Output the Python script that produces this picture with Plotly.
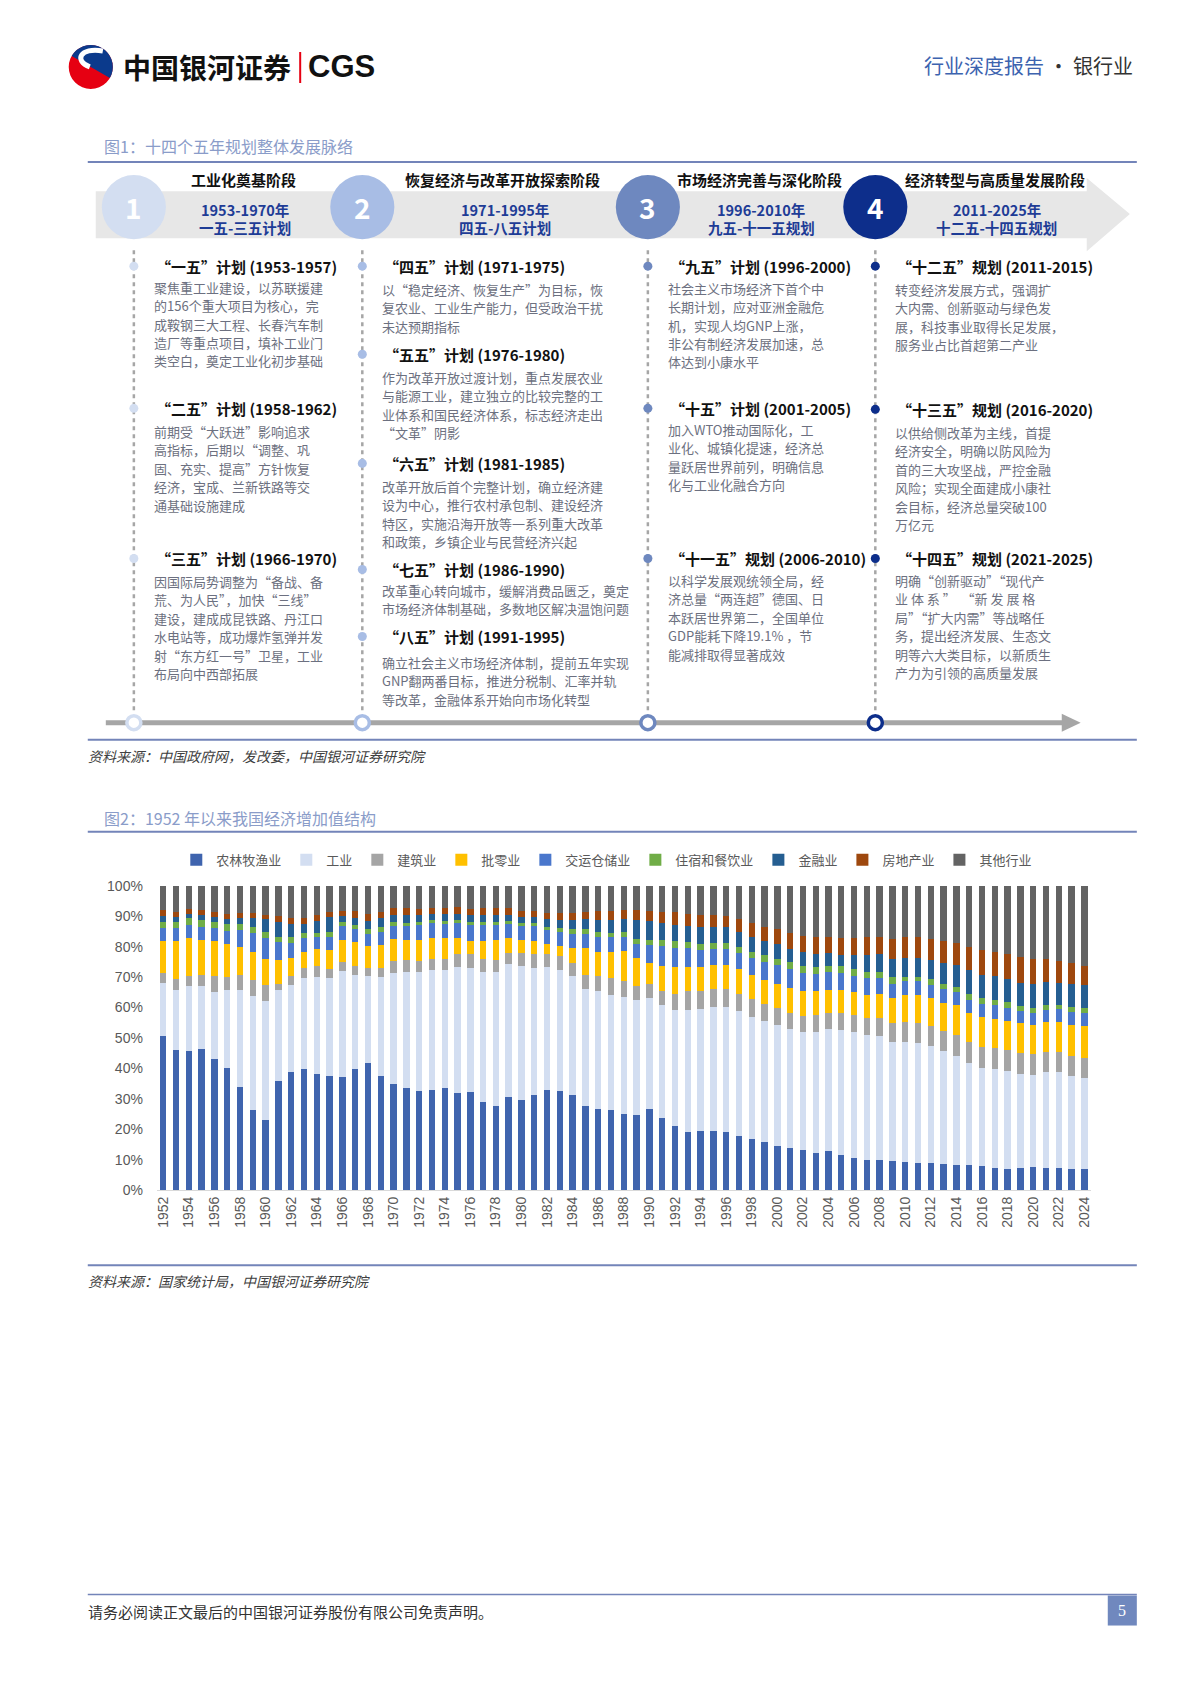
import math
import plotly.graph_objects as go

W, H = 1190, 1683
FONT = "Noto Sans CJK SC, Noto Sans, sans-serif"

# ---------------- Figure 2 data (share of value added, %) ----------------
years = [str(y) for y in range(1952, 2025)]
series_names = ["农林牧渔业", "工业", "建筑业", "批零业", "交运仓储业", "住宿和餐饮业", "金融业", "房地产业", "其他行业"]

agri = [50.5, 46.0, 45.6, 46.3, 43.1, 40.2, 33.8, 26.3, 23.0, 35.8, 38.9, 39.8, 38.1, 37.6, 37.1, 39.7, 41.7,
        37.4, 34.9, 33.6, 32.5, 33.0, 33.4, 32.0, 32.3, 29.0, 27.6, 30.6, 29.6, 31.2, 32.8, 32.5, 31.4, 27.8, 26.5, 26.2,
        25.1, 24.6, 26.5, 23.8, 21.1, 19.2, 19.4, 19.5, 19.2, 17.7, 16.9, 15.9, 14.4, 13.9, 13.2, 12.2, 12.7, 11.5, 10.6,
        10.0, 10.0, 9.6, 9.2, 9.0, 9.0, 8.6, 8.4, 8.1, 7.9, 7.4, 7.0, 7.1, 7.6, 7.1, 7.2, 6.9, 6.8]
industry = [17.7, 19.8, 21.6, 20.9, 21.9, 25.4, 31.8, 37.6, 39.0, 29.8, 28.6, 29.9, 31.8, 32.1, 35.0, 31.0, 28.6,
            32.5, 36.6, 38.2, 39.1, 39.3, 38.9, 41.4, 40.7, 42.6, 44.2, 43.6, 43.9, 41.9, 40.6, 39.9, 38.8, 38.4, 38.8, 38.0,
            38.4, 37.8, 36.6, 37.1, 38.2, 40.0, 40.1, 40.7, 41.0, 41.3, 39.9, 39.6, 40.0, 39.0, 38.8, 39.8, 40.1, 41.1, 41.5,
            41.1, 40.8, 39.0, 39.4, 39.4, 38.2, 37.0, 35.6, 33.6, 32.3, 32.4, 32.1, 30.9, 30.1, 31.7, 31.7, 30.5, 30.1]
construction = [3.3, 3.5, 3.0, 3.4, 5.4, 4.4, 5.1, 5.1, 5.5, 2.2, 2.8, 3.2, 3.6, 3.0, 3.0, 3.1, 2.6,
                3.0, 3.8, 3.9, 3.7, 3.7, 3.7, 4.1, 4.5, 4.3, 3.7, 3.6, 4.3, 4.4, 4.1, 4.6, 4.4, 4.5, 4.9, 5.5,
                5.3, 4.6, 4.6, 4.6, 5.1, 6.3, 6.0, 6.0, 5.8, 5.6, 5.9, 5.5, 5.3, 5.3, 5.2, 5.4, 5.4, 5.6, 5.4,
                5.5, 5.8, 6.3, 6.5, 6.5, 6.6, 6.7, 7.0, 6.9, 6.9, 6.9, 7.0, 7.1, 7.1, 6.6, 6.4, 6.7, 6.5]
retail = [10.4, 12.6, 12.6, 11.6, 11.3, 10.8, 9.3, 9.1, 8.4, 7.9, 5.9, 5.3, 5.6, 6.1, 7.1, 7.6, 7.2,
          7.7, 7.1, 6.5, 6.9, 7.0, 6.8, 5.3, 4.5, 6.0, 6.6, 5.0, 4.3, 4.5, 3.3, 3.2, 4.9, 8.8, 8.2, 8.7,
          9.8, 9.2, 6.9, 8.3, 8.9, 7.8, 7.8, 7.7, 7.9, 8.0, 8.0, 8.2, 8.1, 8.2, 8.3, 8.1, 7.5, 7.4, 7.6,
          7.6, 8.0, 8.2, 8.9, 9.1, 9.2, 9.3, 9.7, 9.7, 9.7, 9.6, 9.6, 9.7, 9.6, 9.8, 10.0, 10.2, 10.4]
transport = [4.1, 4.1, 4.3, 4.3, 4.3, 4.5, 5.5, 6.5, 6.9, 5.7, 5.1, 4.6, 4.0, 4.5, 4.6, 4.3, 4.1,
             4.3, 4.4, 4.6, 4.9, 4.7, 4.5, 4.9, 5.1, 5.2, 5.0, 4.6, 4.7, 4.8, 4.7, 4.5, 4.7, 4.7, 4.9, 4.7,
             4.5, 4.7, 6.0, 6.5, 6.2, 6.2, 5.6, 5.4, 5.4, 5.2, 5.5, 5.7, 6.1, 6.2, 5.9, 5.6, 5.9, 5.7, 5.4,
             5.5, 5.1, 4.7, 4.6, 4.6, 4.4, 4.6, 4.4, 4.3, 4.3, 4.6, 4.3, 4.2, 3.8, 4.0, 4.2, 4.2, 4.4]
hotel = [2.2, 2.2, 2.2, 2.3, 2.2, 2.1, 1.9, 2.0, 1.9, 1.9, 1.8, 1.7, 1.5, 1.4, 1.4, 1.4, 1.5,
         1.7, 1.2, 1.1, 1.1, 1.1, 1.2, 0.9, 1.1, 1.1, 1.1, 1.1, 1.1, 1.1, 1.1, 1.3, 1.5, 1.6, 1.6, 1.5,
         1.6, 1.7, 1.7, 2.0, 2.2, 1.9, 2.1, 1.9, 1.8, 2.0, 2.1, 2.2, 2.0, 2.2, 2.3, 2.3, 2.1, 2.2, 2.2,
         1.9, 2.1, 2.1, 1.5, 1.5, 1.9, 1.6, 1.7, 1.8, 1.9, 1.7, 1.8, 1.6, 1.6, 1.7, 1.4, 1.8, 1.8]
finance = [2.0, 1.7, 1.4, 1.6, 1.5, 1.8, 2.1, 2.9, 4.4, 4.9, 4.2, 2.8, 3.9, 4.9, 1.9, 2.2, 2.7,
           2.7, 2.4, 2.5, 2.2, 1.8, 2.1, 2.1, 2.2, 2.2, 2.2, 1.9, 1.8, 1.7, 2.4, 2.8, 2.9, 3.2, 3.7, 4.2,
           4.4, 6.2, 6.1, 5.6, 5.4, 5.4, 5.3, 5.3, 5.2, 5.1, 4.9, 4.9, 4.9, 4.5, 4.5, 4.3, 4.3, 3.8, 4.6,
           5.7, 5.7, 6.1, 6.1, 6.1, 6.2, 6.9, 7.2, 8.0, 7.7, 7.6, 7.6, 7.6, 7.8, 7.4, 7.2, 7.3, 7.5]
real_estate = [1.8, 1.4, 1.7, 1.8, 1.8, 1.5, 1.7, 1.4, 1.3, 1.9, 2.0, 2.0, 1.9, 1.7, 1.6, 2.4, 2.3,
               2.2, 2.2, 2.2, 2.0, 2.2, 2.2, 2.2, 2.0, 2.2, 2.2, 2.2, 2.0, 2.1, 1.9, 2.1, 2.3, 2.3, 3.1, 3.0,
               3.1, 3.1, 3.3, 3.4, 4.2, 3.9, 4.1, 3.9, 3.9, 4.1, 4.5, 4.6, 4.9, 5.1, 5.2, 5.5, 5.2, 5.5, 5.6,
               6.0, 5.7, 6.5, 6.9, 6.9, 6.9, 7.2, 7.2, 7.6, 8.2, 8.2, 8.2, 8.4, 8.4, 7.7, 7.2, 6.9, 6.2]
other = [8.0, 8.7, 7.6, 7.8, 8.5, 9.3, 8.8, 9.1, 9.6, 9.9, 10.7, 10.7, 9.6, 8.7, 8.3, 8.3, 9.3,
         8.5, 7.4, 7.4, 7.6, 7.2, 7.2, 7.1, 7.6, 7.4, 7.4, 7.4, 8.3, 8.3, 9.1, 9.1, 9.1, 8.7, 8.3, 8.2,
         7.8, 8.1, 8.3, 8.7, 8.7, 9.3, 9.6, 9.6, 9.8, 11.0, 12.3, 13.4, 14.3, 15.6, 16.6, 16.8, 16.8, 17.2, 17.1,
         16.7, 16.8, 17.5, 16.9, 16.9, 17.6, 18.1, 18.8, 20.0, 21.1, 21.6, 22.4, 23.4, 24.0, 24.0, 24.7, 25.5, 26.3]
series_values = [agri, industry, construction, retail, transport, hotel, finance, real_estate, other]
series_colors = ["#3F64AE", "#D3DEF1", "#A5A5A5", "#FFC000", "#4A77CC", "#70AD47", "#255E91", "#9E480E", "#636363"]
year_ticks = years[::2]
pct_ticks = [0, 10, 20, 30, 40, 50, 60, 70, 80, 90, 100]
pct_labels = ["0%", "10%", "20%", "30%", "40%", "50%", "60%", "70%", "80%", "90%", "100%"]

# ---------------- Figure 1 texts ----------------
stage_names = ["工业化奠基阶段", "恢复经济与改革开放探索阶段", "市场经济完善与深化阶段", "经济转型与高质量发展阶段"]
stage_years = ["1953-1970年", "1971-1995年", "1996-2010年", "2011-2025年"]
stage_plans = ["一五-三五计划", "四五-八五计划", "九五-十一五规划", "十二五-十四五规划"]
stage_nums = ["1", "2", "3", "4"]

plans = [
    [("“一五”计划 (1953-1957)", ["聚焦重工业建设，以苏联援建", "的156个重大项目为核心，完", "成鞍钢三大工程、长春汽车制",
                                 "造厂等重点项目，填补工业门", "类空白，奠定工业化初步基础"]),
     ("“二五”计划 (1958-1962)", ["前期受“大跃进”影响追求", "高指标，后期以“调整、巩", "固、充实、提高”方针恢复",
                                 "经济，宝成、兰新铁路等交", "通基础设施建成"]),
     ("“三五”计划 (1966-1970)", ["因国际局势调整为“备战、备", "荒、为人民”，加快“三线”", "建设，建成成昆铁路、丹江口",
                                 "水电站等，成功爆炸氢弹并发", "射“东方红一号”卫星，工业", "布局向中西部拓展"])],
    [("“四五”计划 (1971-1975)", ["以“稳定经济、恢复生产”为目标，恢", "复农业、工业生产能力，但受政治干扰", "未达预期指标"]),
     ("“五五”计划 (1976-1980)", ["作为改革开放过渡计划，重点发展农业", "与能源工业，建立独立的比较完整的工",
                                 "业体系和国民经济体系，标志经济走出", "“文革”阴影"]),
     ("“六五”计划 (1981-1985)", ["改革开放后首个完整计划，确立经济建", "设为中心，推行农村承包制、建设经济",
                                 "特区，实施沿海开放等一系列重大改革", "和政策，乡镇企业与民营经济兴起"]),
     ("“七五”计划 (1986-1990)", ["改革重心转向城市，缓解消费品匮乏，奠定", "市场经济体制基础，多数地区解决温饱问题"]),
     ("“八五”计划 (1991-1995)", ["确立社会主义市场经济体制，提前五年实现", "GNP翻两番目标，推进分税制、汇率并轨",
                                 "等改革，金融体系开始向市场化转型"])],
    [("“九五”计划 (1996-2000)", ["社会主义市场经济下首个中", "长期计划，应对亚洲金融危", "机，实现人均GNP上涨，",
                                 "非公有制经济发展加速，总", "体达到小康水平"]),
     ("“十五”计划 (2001-2005)", ["加入WTO推动国际化，工", "业化、城镇化提速，经济总", "量跃居世界前列，明确信息",
                                 "化与工业化融合方向"]),
     ("“十一五”规划 (2006-2010)", ["以科学发展观统领全局，经", "济总量“两连超”德国、日", "本跃居世界第二，全国单位",
                                   "GDP能耗下降19.1% ，节", "能减排取得显著成效"])],
    [("“十二五”规划 (2011-2015)", ["转变经济发展方式，强调扩", "大内需、创新驱动与绿色发", "展，科技事业取得长足发展，",
                                   "服务业占比首超第二产业"]),
     ("“十三五”规划 (2016-2020)", ["以供给侧改革为主线，首提", "经济安全，明确以防风险为", "首的三大攻坚战，严控金融",
                                   "风险；实现全面建成小康社", "会目标，经济总量突破100", "万亿元"]),
     ("“十四五”规划 (2021-2025)", ["明确“创新驱动”“现代产", "业 体 系 ”  “新 发 展 格", "局”“扩大内需”等战略任",
                                   "务，提出经济发展、生态文", "明等六大类目标，以新质生", "产力为引领的高质量发展"])],
]

# ---------------- layout positions (page pixels, design grid) ----------------
col_x = [132, 360, 645, 872]
stage_colors = ["#D3DEF1", "#A8BDE5", "#6E88BF", "#0D2E8B"]
stage_cx = [241, 500, 756, 991]
head_y = [[265, 407, 557], [265, 353, 462, 568, 635], [265, 407, 557], [265, 408, 557]]
body_y = [[286, 430, 580], [288, 376, 485, 589, 661], [287, 428, 579], [288, 431, 579]]
LINE_H = 18.4


def X(x):
    return 1.0045 * x - 0.4


def Y(y):
    return 1.0106 * y - 7.15


shapes = []
annotations = []


def txt(x, y, s, size, color, bold=False, xanchor="left", italic=False, family=FONT):
    annotations.append(dict(x=X(x), y=Y(y), xref="x2", yref="y2", text=("<b>%s</b>" % s) if bold else s,
                            showarrow=False, xanchor=xanchor, yanchor="middle",
                            font=dict(size=size, color=color, family=family,
                                      style="italic" if italic else "normal")))


def line(x0, y0, x1, y1, color, width, dash="solid"):
    shapes.append(dict(type="line", xref="x2", yref="y2", x0=X(x0), y0=Y(y0), x1=X(x1), y1=Y(y1),
                       line=dict(color=color, width=width, dash=dash)))


def circle(cx, cy, r, fill, lc=None, lw=0):
    shapes.append(dict(type="circle", xref="x2", yref="y2", x0=X(cx - r), x1=X(cx + r), y0=Y(cy - r), y1=Y(cy + r),
                       fillcolor=fill, line=dict(color=lc or fill, width=lw)))


def poly(pts, fill):
    p = "M " + " L ".join("%.1f,%.1f" % (X(a), Y(b)) for a, b in pts) + " Z"
    shapes.append(dict(type="path", xref="x2", yref="y2", path=p, fillcolor=fill, line=dict(width=0)))


def curve(pts, color, width):
    (a0, b0), rest = pts[0], pts[1:]
    p = "M %.1f,%.1f C " % (X(a0), Y(b0)) + " ".join("%.1f,%.1f" % (X(a), Y(b)) for a, b in rest)
    shapes.append(dict(type="path", xref="x2", yref="y2", path=p, line=dict(color=color, width=width)))


# ---- header ----
lcx, lcy, lr = 89, 66, 22
circle(lcx, lcy, lr, "#E60012")
poly([(lcx + lr * math.cos(math.radians(a)), lcy + lr * math.sin(math.radians(a))) for a in range(-150, 31, 10)],
     "#0B3A8C")
curve([(101, 50), (78, 46), (72, 60), (88, 66), (104, 72), (98, 86), (76, 82)], "white", 5)
txt(119, 66, "中国银河证券", 28, "#111111", bold=True)
line(298, 51, 298, 82, "#E60012", 2)
txt(304, 66, "CGS", 31, "#111111", bold=True, family="Liberation Sans, Arial, sans-serif")
txt(1131, 65, '<span style="color:#3D63AF">行业深度报告</span> · 银行业', 20, "#333333", xanchor="right")

# ---- figure 1 ----
txt(100, 145, "图1：十四个五年规划整体发展脉络", 16, "#8A9CC9")
line(86, 161, 1133, 161, "#7384B9", 2)
poly([(94, 190), (1083, 190), (1083, 177), (1126, 213), (1083, 250), (1083, 237), (94, 237)], "#E7E7E7")

for i in range(4):
    line(col_x[i], 249, col_x[i], 712, "#A6A6A6", 2.5, dash="4px,4px")

line(104, 721, 1062, 721, "#A6A6A6", 5)
poly([(1058, 712), (1077, 721), (1058, 730)], "#A6A6A6")

for i in range(4):
    circle(col_x[i], 206, 32, stage_colors[i])
    txt(col_x[i], 206, stage_nums[i], 28, "white", bold=True, xanchor="center")
    txt(stage_cx[i], 178, stage_names[i], 15, "#111111", bold=True, xanchor="center")
    txt(stage_cx[i] + 2, 208, stage_years[i], 14.5, "#1E3C96", bold=True, xanchor="center")
    txt(stage_cx[i] + 2, 226, stage_plans[i], 14.5, "#1E3C96", bold=True, xanchor="center")
    circle(col_x[i], 721, 7, "white", stage_colors[i], 3.5)
    for j, (head, lines_) in enumerate(plans[i]):
        circle(col_x[i], head_y[i][j], 4.5, stage_colors[i])
        txt(col_x[i] + 20, head_y[i][j], head, 15, "#111111", bold=True)
        for k, s in enumerate(lines_):
            txt(col_x[i] + 18, body_y[i][j] + k * LINE_H, s, 13, "#6C7080")

line(86, 738, 1133, 738, "#7384B9", 2)
txt(84, 754, "资料来源：中国政府网，发改委，中国银河证券研究院", 14, "#404040", italic=True)

# ---- figure 2 frame ----
txt(100, 816, "图2：1952 年以来我国经济增加值结构", 16, "#8A9CC9")
line(86, 830, 1133, 830, "#7384B9", 2)
line(86, 1263, 1133, 1263, "#7384B9", 2)
txt(84, 1279, "资料来源：国家统计局，中国银河证券研究院", 14, "#404040", italic=True)

# ---- footer ----
line(86, 1592, 1133, 1592, "#7384B9", 1.5)
txt(84, 1609, "请务必阅读正文最后的中国银河证券股份有限公司免责声明。", 15, "#333333")
shapes.append(dict(type="rect", xref="x2", yref="y2", x0=X(1104), x1=X(1133), y0=Y(1593), y1=Y(1623),
                   fillcolor="#7088BE", line=dict(width=0)))
txt(1118.5, 1608, "5", 16, "white", xanchor="center", family="Liberation Serif, serif")

# ---------------- build figure ----------------
fig = go.Figure()
for name, vals, color in zip(series_names, series_values, series_colors):
    fig.add_trace(go.Bar(x=years, y=vals, name=name, marker=dict(color=color, line=dict(width=0)),
                         xaxis="x", yaxis="y", hoverinfo="skip"))
fig.add_trace(go.Scatter(x=[0], y=[0], xaxis="x2", yaxis="y2", mode="markers",
                         marker=dict(opacity=0), showlegend=False, hoverinfo="skip"))

tick_font = dict(size=14, color="#595959", family="Liberation Sans, Arial, sans-serif")
fig.update_layout(
    width=W, height=H, autosize=False,
    margin=dict(l=0, r=0, t=0, b=0),
    paper_bgcolor="white", plot_bgcolor="rgba(0,0,0,0)",
    font=dict(family=FONT, color="#333333"),
    barmode="stack", bargap=0.5,
    showlegend=True,
    legend=dict(orientation="h", x=X(604) / W, xanchor="center", y=1 - Y(858) / H, yanchor="middle",
                font=dict(size=13, color="#595959", family=FONT), bgcolor="rgba(0,0,0,0)",
                traceorder="normal", itemwidth=30),
    xaxis=dict(domain=[X(155) / W, X(1087) / W], anchor="y", type="category",
               tickmode="array", tickvals=year_ticks, ticktext=year_ticks, tickangle=-90,
               showline=True, linecolor="#D9D9D9", linewidth=1, ticks="", showgrid=False,
               tickfont=tick_font, fixedrange=True),
    yaxis=dict(domain=[1 - Y(1188) / H, 1 - Y(884) / H], anchor="x", range=[0, 100],
               tickmode="array", tickvals=pct_ticks, ticktext=pct_labels, showgrid=False, zeroline=False,
               showline=False, ticks="", ticklabelstandoff=13, tickfont=tick_font, fixedrange=True),
    xaxis2=dict(domain=[0, 1], anchor="y2", range=[0, W], visible=False, fixedrange=True),
    yaxis2=dict(domain=[0, 1], anchor="x2", range=[H, 0], visible=False, fixedrange=True),
    shapes=shapes,
    annotations=annotations,
)

fig.write_html("out.html", config={"displayModeBar": False},
               post_script="document.body.style.margin='0';")
